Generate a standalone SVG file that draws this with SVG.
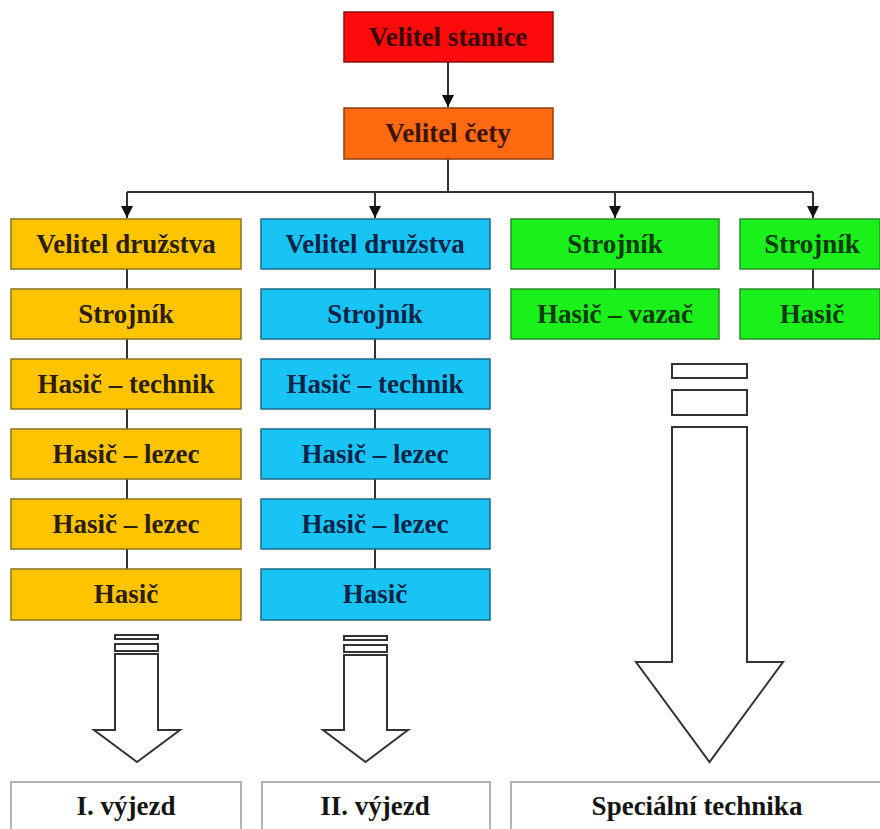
<svg xmlns="http://www.w3.org/2000/svg" width="880" height="829" viewBox="0 0 880 829">
<defs>
<marker id="ah" markerWidth="12" markerHeight="14" refX="10" refY="5" orient="auto" markerUnits="userSpaceOnUse" viewBox="0 0 10 10">
<path d="M0,0 L10,5 L0,10 Z" fill="#111"/>
</marker>
<style>
text{font-family:"Liberation Serif","Times New Roman",serif;font-weight:bold;font-size:27px;text-anchor:middle}
.box{stroke-width:1.5}
.red{fill:#ff0a0a;stroke:#8a1010}
.org{fill:#ff6a10;stroke:#8a4010}
.yel{fill:#ffc400;stroke:#8a7020}
.blu{fill:#18c4f4;stroke:#1a6a8a}
.grn{fill:#1af01a;stroke:#2a8a2a}
.wht{fill:#fff;stroke:#9a9a9a;stroke-width:1.5}
.tr{fill:#3a0505}.to{fill:#3a1505}.ty{fill:#2a1e05}.tb{fill:#0a2448}.tg{fill:#0a3a0a}.tk{fill:#151515}
.ln{stroke:#333;stroke-width:2;fill:none}
.ar{fill:#fff;stroke:#333;stroke-width:2}
</style>
</defs>
<g id="connectors">
<line class="ln" x1="448" y1="62" x2="448" y2="107" marker-end="url(#ah)"/>
<polyline class="ln" points="448,159 448,192"/>
<line class="ln" x1="127" y1="192" x2="813" y2="192"/>
<line class="ln" x1="127" y1="192" x2="127" y2="218" marker-end="url(#ah)"/>
<line class="ln" x1="375" y1="192" x2="375" y2="218" marker-end="url(#ah)"/>
<line class="ln" x1="615" y1="192" x2="615" y2="218" marker-end="url(#ah)"/>
<line class="ln" x1="813" y1="192" x2="813" y2="218" marker-end="url(#ah)"/>
<line class="ln" x1="127" y1="269" x2="127" y2="569"/>
<line class="ln" x1="375" y1="269" x2="375" y2="569"/>
<line class="ln" x1="615" y1="269" x2="615" y2="289"/>
<line class="ln" x1="813" y1="269" x2="813" y2="289"/>
</g>
<g id="n-velitel-stanice"><rect class="box red" x="344" y="12" width="209" height="50"/><text class="tr" x="448" y="46">Velitel stanice</text></g>
<g id="n-velitel-cety"><rect class="box org" x="344" y="108" width="209" height="51"/><text class="to" x="448" y="142">Velitel čety</text></g>
<g id="n-y1"><rect class="box yel" x="11" y="219" width="230" height="50"/><text class="ty" x="126" y="253">Velitel družstva</text></g>
<g id="n-y2"><rect class="box yel" x="11" y="289" width="230" height="50"/><text class="ty" x="126" y="323">Strojník</text></g>
<g id="n-y3"><rect class="box yel" x="11" y="359" width="230" height="50"/><text class="ty" x="126" y="393">Hasič – technik</text></g>
<g id="n-y4"><rect class="box yel" x="11" y="429" width="230" height="50"/><text class="ty" x="126" y="463">Hasič – lezec</text></g>
<g id="n-y5"><rect class="box yel" x="11" y="499" width="230" height="50"/><text class="ty" x="126" y="533">Hasič – lezec</text></g>
<g id="n-y6"><rect class="box yel" x="11" y="569" width="230" height="51"/><text class="ty" x="126" y="603">Hasič</text></g>
<g id="n-b1"><rect class="box blu" x="261" y="219" width="229" height="50"/><text class="tb" x="375" y="253">Velitel družstva</text></g>
<g id="n-b2"><rect class="box blu" x="261" y="289" width="229" height="50"/><text class="tb" x="375" y="323">Strojník</text></g>
<g id="n-b3"><rect class="box blu" x="261" y="359" width="229" height="50"/><text class="tb" x="375" y="393">Hasič – technik</text></g>
<g id="n-b4"><rect class="box blu" x="261" y="429" width="229" height="50"/><text class="tb" x="375" y="463">Hasič – lezec</text></g>
<g id="n-b5"><rect class="box blu" x="261" y="499" width="229" height="50"/><text class="tb" x="375" y="533">Hasič – lezec</text></g>
<g id="n-b6"><rect class="box blu" x="261" y="569" width="229" height="51"/><text class="tb" x="375" y="603">Hasič</text></g>
<g id="n-g1"><rect class="box grn" x="511" y="219" width="208" height="50"/><text class="tg" x="615" y="253">Strojník</text></g>
<g id="n-g2"><rect class="box grn" x="511" y="289" width="208" height="50"/><text class="tg" x="615" y="323">Hasič – vazač</text></g>
<g id="n-g3"><rect class="box grn" x="740" y="219" width="140" height="50"/><text class="tg" x="812" y="253">Strojník</text></g>
<g id="n-g4"><rect class="box grn" x="740" y="289" width="140" height="50"/><text class="tg" x="812" y="323">Hasič</text></g>
<g id="arrow-1">
<rect class="ar" x="115" y="635" width="43" height="4"/>
<rect class="ar" x="115" y="644" width="43" height="7"/>
<path class="ar" d="M115,654 H158 V730 H180 L137,762 L94,730 H115 Z"/>
</g>
<g id="arrow-2">
<rect class="ar" x="344" y="636" width="43" height="4"/>
<rect class="ar" x="344" y="645" width="43" height="7"/>
<path class="ar" d="M344,655 H387 V730 H408 L365.5,762 L323,730 H344 Z"/>
</g>
<g id="arrow-3">
<rect class="ar" x="672" y="364" width="75" height="14"/>
<rect class="ar" x="672" y="390" width="75" height="25"/>
<path class="ar" d="M672,427 H747 V662 H783 L709.5,762 L636,662 H672 Z"/>
</g>
<g id="n-vyjezd1"><rect class="wht" x="11" y="782" width="230" height="60"/><text class="tk" x="126" y="815">I. výjezd</text></g>
<g id="n-vyjezd2"><rect class="wht" x="262" y="782" width="228" height="60"/><text class="tk" x="375" y="815">II. výjezd</text></g>
<g id="n-special"><rect class="wht" x="511" y="782" width="380" height="60"/><text class="tk" x="697" y="815">Speciální technika</text></g>
</svg>
